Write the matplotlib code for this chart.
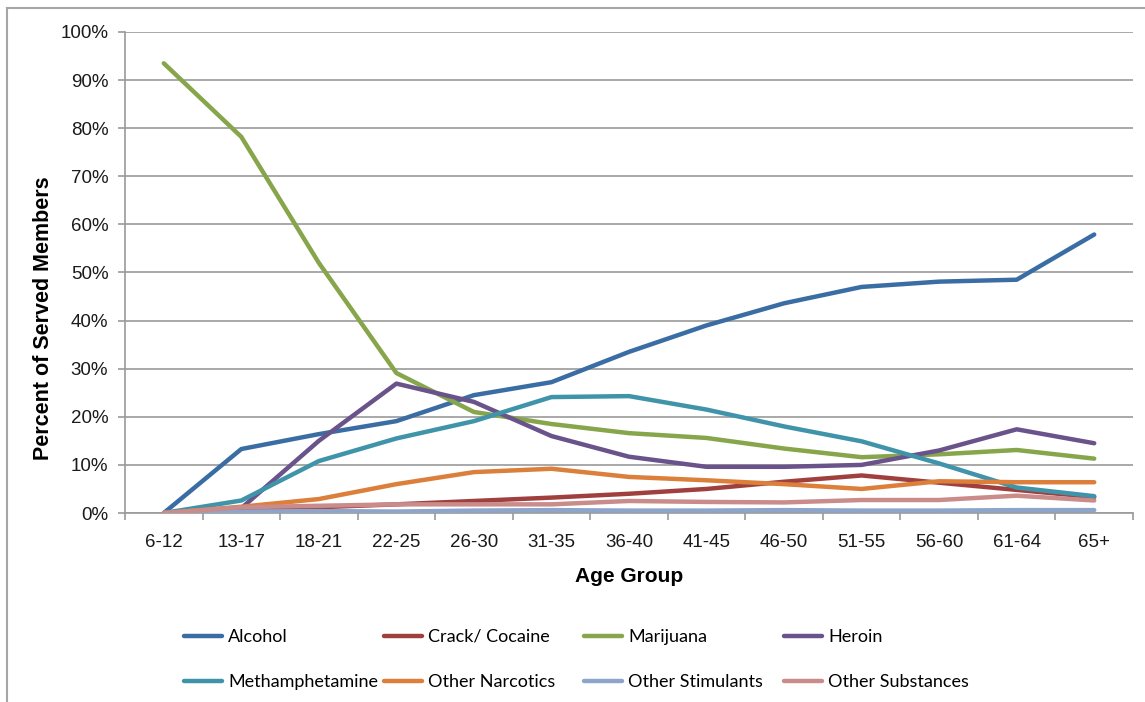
import matplotlib
matplotlib.use('Agg')
import matplotlib.pyplot as plt
from matplotlib.lines import Line2D
from matplotlib.ticker import FixedLocator, FuncFormatter

ageGroups = ['6-12', '13-17', '18-21', '22-25', '26-30', '31-35', '36-40',
             '41-45', '46-50', '51-55', '56-60', '61-64', '65+']

alcohol = [0, 13.3, 16.4, 19.1, 24.5, 27.2, 33.5, 39.0, 43.6, 47.0, 48.1, 48.5, 57.9]
crackCocaine = [0, 0.8, 1.2, 1.8, 2.5, 3.2, 4.0, 5.0, 6.5, 7.8, 6.3, 4.8, 3.3]
marijuana = [93.5, 78.2, 52.0, 29.1, 21.0, 18.5, 16.6, 15.6, 13.4, 11.6, 12.2, 13.1, 11.3]
heroin = [0, 1.0, 15.0, 26.9, 23.1, 16.0, 11.7, 9.6, 9.6, 10.0, 13.0, 17.4, 14.5]
meth = [0, 2.6, 10.8, 15.5, 19.1, 24.1, 24.3, 21.5, 18.0, 14.9, 10.3, 5.3, 3.5]
otherNarcotics = [0, 1.3, 2.9, 6.0, 8.5, 9.2, 7.5, 6.8, 6.0, 5.0, 6.6, 6.4, 6.4]
otherStimulants = [0, 0.3, 0.4, 0.3, 0.5, 0.6, 0.5, 0.5, 0.6, 0.5, 0.5, 0.6, 0.6]
otherSubstances = [0, 1.2, 1.5, 1.8, 1.8, 1.8, 2.5, 2.3, 2.2, 2.7, 2.7, 3.6, 2.6]

series = [
    ('Alcohol', alcohol, '#3A6DA4'),
    ('Crack/ Cocaine', crackCocaine, '#A0403E'),
    ('Marijuana', marijuana, '#87A54A'),
    ('Heroin', heroin, '#6A528A'),
    ('Methamphetamine', meth, '#3F94AA'),
    ('Other Narcotics', otherNarcotics, '#DB7F3A'),
    ('Other Stimulants', otherStimulants, '#8DA5CA'),
    ('Other Substances', otherSubstances, '#CA8B8B'),
]

W, H = 1145, 702
fig = plt.figure(figsize=(W / 100, H / 100), dpi=100)
ax = fig.add_axes([125 / W, 1 - 513 / H, (1133 - 125) / W, (513 - 32) / H])

grey = '#9A9A9A'
x = list(range(len(ageGroups)))
handles = []
for name, vals, col in series:
    ln, = ax.plot(x, vals, color=col, lw=3.2, solid_capstyle='round',
                  solid_joinstyle='round', label=name, zorder=3)
    handles.append(ln)

ax.set_xlim(-0.5, len(ageGroups) - 0.5)
ax.set_ylim(0, 100)
ax.set_yticks(range(0, 101, 10))
ax.yaxis.set_major_formatter(FuncFormatter(lambda v, p: '%d%%' % v))
ax.yaxis.grid(True, color=grey, lw=1.2)
ax.set_axisbelow(True)

ax.set_xticks(x)
ax.set_xticklabels(ageGroups)
ax.xaxis.set_minor_locator(FixedLocator([i - 0.5 for i in range(len(ageGroups) + 1)]))
ax.tick_params(axis='x', which='major', length=0, pad=15)
ax.tick_params(axis='x', which='minor', length=5, width=1.2, color=grey, direction='out')
ax.tick_params(axis='y', length=5, width=1.2, color=grey, direction='out', pad=7)
for lab in ax.get_xticklabels() + ax.get_yticklabels():
    lab.set_fontfamily('Liberation Sans')
    lab.set_fontsize(13.5)
    lab.set_color('#1a1a1a')

for s in ['top', 'right']:
    ax.spines[s].set_visible(False)
for s in ['left', 'bottom']:
    ax.spines[s].set_color(grey)
    ax.spines[s].set_linewidth(1.2)

ax.set_xlabel('Age Group', fontfamily='Liberation Sans', fontweight='bold',
              fontsize=15, labelpad=12)
fig.text(44 / W, 1 - 318 / H, 'Percent of Served Members', rotation=90,
         ha='center', va='center', fontfamily='Liberation Sans',
         fontweight='bold', fontsize=15.5)

# legend: four fixed-width columns of two rows each
legFont = {'family': 'Lato', 'size': 13}
colX = [184, 384, 584, 784]
for c in range(4):
    pair = [handles[c], handles[c + 4]]
    fig.legend(pair, [h.get_label() for h in pair], loc='upper left',
               bbox_to_anchor=(colX[c] / W, 1 - 629 / H), frameon=False,
               prop=legFont, handlelength=2.1, handletextpad=0.35,
               labelspacing=1.6, borderpad=0, borderaxespad=0)

# outer chart border
fig.add_artist(Line2D([7 / W, 1], [1 - 8 / H, 1 - 8 / H], color='#A6A6A6', lw=1.5))
fig.add_artist(Line2D([7 / W, 7 / W], [0, 1 - 8 / H], color='#A6A6A6', lw=1.5))

fig.savefig('out.png', dpi=100)
